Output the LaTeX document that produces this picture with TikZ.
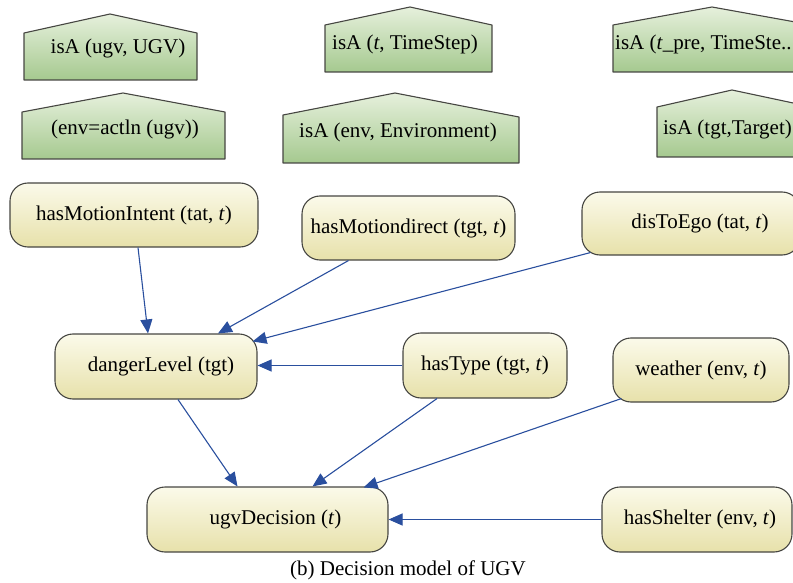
\documentclass[tikz,border=0pt]{standalone}
\usepackage{fontspec}
\setmainfont{Liberation Serif}
\usetikzlibrary{arrows.meta,calc}

\definecolor{edgeblue}{RGB}{42,79,158}
\definecolor{framegray}{RGB}{70,70,66}
\definecolor{greentop}{RGB}{230,240,220}
\definecolor{greenbot}{RGB}{165,201,143}
\definecolor{yellowtop}{RGB}{251,250,234}
\definecolor{yellowbot}{RGB}{231,225,170}

\tikzset{
  house/.style={draw=framegray, line width=1.1pt, top color=greentop, bottom color=greenbot, line join=round},
  factlabel/.style={font=\fontsize{21}{24}\selectfont, inner sep=0pt},
  varbox/.style={draw=framegray, line width=1.1pt, rounded corners=18pt,
    top color=yellowtop, bottom color=yellowbot,
    font=\fontsize{21}{24}\selectfont, inner sep=0pt},
  link/.style={draw=edgeblue, line width=1.1pt, -{Triangle[length=14pt, width=12pt]}},
}

\begin{document}
\begin{tikzpicture}[x=1pt, y=-1pt]
\useasboundingbox (0,0) rectangle (793,583);

% --- class assertions (green pentagons) ---
\shade[house] (24,80) -- (24,33) -- (110,14) -- (197,33) -- (197,80) -- cycle;
\node[factlabel] (isaugv) at (118,48) {isA (ugv, UGV)};

\shade[house] (22,159) -- (22,112) -- (123,93) -- (225,112) -- (225,159) -- cycle;
\node[factlabel] (envact) at (125,129) {(env=actln (ugv))};

\shade[house] (325,72) -- (325,25) -- (410,7) -- (492,25) -- (492,72) -- cycle;
\node[factlabel] (isat) at (405,44) {isA (\textit{t}, TimeStep)};

\shade[house] (283,163) -- (283,115) -- (395,93) -- (519,117) -- (519,163) -- cycle;
\node[factlabel] (isaenv) at (398,132) {isA (env, Environment)};

\shade[house] (613,72) -- (613,25) -- (712,7) -- (812,25) -- (812,72) -- cycle;
\node[factlabel, anchor=west] (isatpre) at (615,44) {isA (\textit{t}\_pre, TimeSte..};

\shade[house] (657,157) -- (657,107) -- (732,90) -- (812,107) -- (812,157) -- cycle;
\node[factlabel, anchor=east] (isatgt) at (792,129) {isA (tgt,Target)};

% --- random variables (rounded boxes) ---
\node[varbox, minimum width=248pt, minimum height=64pt] (intent) at (134,215) {hasMotionIntent (tat, \textit{t})};
\node[varbox, minimum width=213pt, minimum height=64pt] (direct) at (408.5,228) {hasMotiondirect (tgt, \textit{t})};
\node[varbox, minimum width=218pt, minimum height=63pt] (dist) at (691,223.5) {\hspace*{18pt}disToEgo (tat, \textit{t})};
\node[varbox, minimum width=202pt, minimum height=65pt] (danger) at (156,366.5) {\hspace*{10pt}dangerLevel (tgt)};
\node[varbox, minimum width=164pt, minimum height=65pt] (type) at (485,365.5) {hasType (tgt, \textit{t})};
\node[varbox, minimum width=176pt, minimum height=64pt] (weather) at (701,370) {weather (env, \textit{t})};
\node[varbox, minimum width=241pt, minimum height=65pt] (decision) at (267.5,519.5) {\hspace*{16pt}ugvDecision (\textit{t})};
\node[varbox, minimum width=190pt, minimum height=65pt] (shelter) at (697,519.5) {\hspace*{6pt}hasShelter (env, \textit{t})};

% --- dependencies ---
\draw[link] ([xshift=4pt]intent.south) -- ([xshift=-8pt]danger.north);
\draw[link] ([xshift=-60pt]direct.south) -- ([xshift=62pt]danger.north);
\draw[link] ([xshift=9pt, yshift=3pt]dist.south west) -- ([xshift=-5pt, yshift=-8pt]danger.north east);
\draw[link] (type.west) -- (type.west -| danger.east);
\draw[link] ([xshift=22pt]danger.south) -- ([xshift=-30pt]decision.north);
\draw[link] ([xshift=-48pt]type.south) -- ([xshift=45pt]decision.north);
\draw[link] ([xshift=9pt, yshift=4pt]weather.south west) -- ([xshift=-25pt, yshift=-1pt]decision.north east);
\draw[link] (shelter.west) -- (shelter.west -| decision.east);

% --- caption ---
\node[font=\fontsize{21}{24}\selectfont, inner sep=0pt] (caption) at (408,570) {(b) Decision model of UGV};
\end{tikzpicture}
\end{document}
